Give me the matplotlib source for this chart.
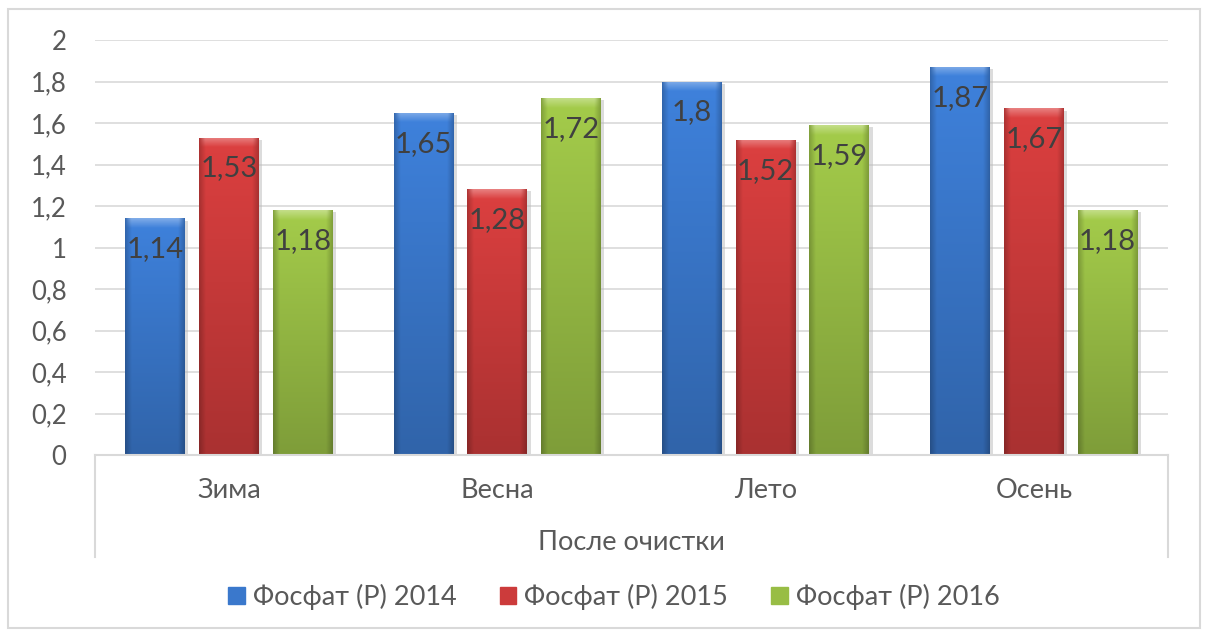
import numpy as np
import matplotlib.pyplot as plt
from matplotlib.patches import Patch, Rectangle
from matplotlib.lines import Line2D
from matplotlib.colors import to_rgb

plt.rcParams['font.family'] = ['Lato', 'DejaVu Sans']

seasons = ["Зима", "Весна", "Лето", "Осень"]
group_label = "После очистки"
series_names = ["Фосфат (Р) 2014", "Фосфат (Р) 2015", "Фосфат (Р) 2016"]
p2014 = [1.14, 1.65, 1.80, 1.87]
p2015 = [1.53, 1.28, 1.52, 1.67]
p2016 = [1.18, 1.72, 1.59, 1.18]
yticks = [0, 0.2, 0.4, 0.6, 0.8, 1, 1.2, 1.4, 1.6, 1.8, 2]

colors = ["#3a78cc", "#cc3b3b", "#98bd45"]

W, H = 1209, 637
fig = plt.figure(figsize=(W / 100, H / 100), dpi=100)
ax = fig.add_axes([95 / W, (H - 455) / H, (1168 - 95) / W, (455 - 40) / H])

ax.set_xlim(-0.5, 3.5)
ax.set_ylim(0, 2)
px_per_unit = (455 - 40) / 2


def shade(ax, bars, color):
    # fake the Excel bevel: darker sides and bottom, light top edge
    base = np.array(to_rgb(color))
    for b in bars:
        x0, w, h = b.get_x(), b.get_width(), b.get_height()
        nx = 60
        ny = max(int(h * px_per_unit), 2)
        xs = np.arange(nx) + 0.5
        ys = np.arange(ny) + 0.5
        edge = np.minimum(xs, nx - xs)
        hprof = 0.78 + 0.22 * np.clip(edge / 7.0, 0, 1)
        vprof = 1.08 - 0.25 * (ys / ny)
        f = vprof[:, None] * hprof[None, :]
        img = np.clip(base[None, None, :] * f[:, :, None], 0, 1)
        top = np.clip((10 - ys) / 10, 0, 1)[:, None] * np.clip(edge / 6.0, 0, 1)[None, :]
        img = img + (1 - img) * 0.35 * top[:, :, None]
        im = ax.imshow(img, extent=(x0, x0 + w, 0, h), aspect='auto',
                       origin='upper', zorder=3, interpolation='bilinear')
        im.set_clip_path(b)
        # soft shadow
        ax.add_patch(Rectangle((x0 + 0.012, 0), w, h - 0.01, color="#bbbbbb",
                               alpha=0.5, zorder=2.5, lw=0))


x = np.arange(len(seasons))
width = 0.223
step = 0.275
for i, (vals, c) in enumerate(zip([p2014, p2015, p2016], colors)):
    bars = ax.bar(x + (i - 1) * step, vals, width, color=c, zorder=3)
    shade(ax, bars, c)
    for xi, v in zip(x + (i - 1) * step, vals):
        ax.annotate(f"{v:g}".replace(".", ","), (xi, v), xytext=(0, -31),
                    textcoords='offset pixels', ha='center', va='center',
                    fontsize=21, color="#404040", zorder=5)

ax.set_yticks(yticks)
ax.set_yticklabels([f"{t:g}".replace(".", ",") for t in yticks],
                   fontsize=18.5, color="#595959")
ax.tick_params(axis='y', length=0, pad=20.5)
ax.set_xticks([])
ax.grid(axis='y', color="#d9d9d9", lw=1.2, zorder=0)
ax.set_axisbelow(True)
for s in ax.spines.values():
    s.set_visible(False)

# multi-level category box
tr = ax.get_xaxis_transform()
box_bottom = (455 - 557) / 415
ax.add_line(Line2D([-0.5, 3.5], [0, 0], transform=tr, color="#d9d9d9", lw=1.5,
                   clip_on=False, zorder=4))
for xb in [-0.5, 3.5]:
    ax.add_line(Line2D([xb, xb], [0, box_bottom], transform=tr, color="#d9d9d9",
                       lw=1.5, clip_on=False))
for xi, s in zip(x, seasons):
    ax.text(xi, (455 - 490) / 415, s, transform=tr, ha='center', va='center',
            fontsize=19.5, color="#595959")
ax.text(1.5, (455 - 542) / 415, group_label, transform=tr, ha='center',
        va='center', fontsize=19.5, color="#595959")

handles = [Patch(facecolor=c, edgecolor=c) for c in colors]
fig.legend(handles, series_names, loc='center', ncol=3,
           bbox_to_anchor=(614 / W, 1 - 597 / H), frameon=False, fontsize=19.5,
           handlelength=0.6, handleheight=0.6, handletextpad=0.3,
           columnspacing=1.6, labelcolor="#595959")

fig.patches.append(Rectangle((8 / W, 9 / H), (1200 - 8) / W, (628 - 9) / H,
                             transform=fig.transFigure, fill=False,
                             edgecolor="#d9d9d9", lw=1.5))

fig.savefig("out.png", dpi=100)
